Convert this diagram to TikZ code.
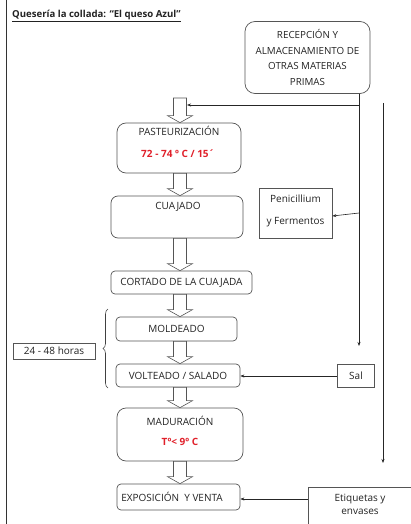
\documentclass[tikz,border=0pt]{standalone}
\usepackage{fontspec}
\setmainfont{Open Sans}
\usetikzlibrary{arrows.meta,decorations.pathreplacing,calc}
\definecolor{txt}{HTML}{222222}
\definecolor{ln}{HTML}{555555}
\definecolor{redt}{HTML}{E0202A}
\tikzset{
  box/.style={draw=ln,line width=0.7pt,rounded corners=#1,inner sep=0pt,text=txt,font=\fontsize{10}{12}\selectfont},
  box/.default=5pt,
  sqbox/.style={draw=ln,line width=0.7pt,inner sep=0pt,text=txt,align=center,font=\fontsize{10}{12}\selectfont},
  lbl/.style={text=txt,inner sep=0pt,font=\fontsize{10}{12}\selectfont},
  redlbl/.style={text=redt,inner sep=0pt,font=\bfseries\fontsize{10}{12}\selectfont},
  conn/.style={draw=black!85,line width=0.6pt,-{Stealth[length=4pt,width=3pt]}},
  barr/.style={draw=ln,fill=white,line width=0.6pt,line join=miter}
}
\newcommand\blockarr[2]{%
  \draw[barr] let \p1=(#1), \p2=(#2) in
    (173.5pt,\y1) -- (173.5pt,\y2+7pt) -- (167.5pt,\y2+7pt) -- (180pt,\y2) --
    (192.5pt,\y2+7pt) -- (186.5pt,\y2+7pt) -- (186.5pt,\y1) -- cycle;}
\begin{document}
\begin{tikzpicture}[x=1pt,y=-1pt]
\useasboundingbox (0,0) rectangle (411,524);
\draw[line width=0.8pt,black!80] (6,0) -- (6,524);

\node[anchor=west,text=txt,inner sep=0pt,font=\bfseries\fontsize{9.6}{11}\selectfont] (title) at (12,16)
  {\underline{Quesería la collada: “El queso Azul”}};

% boxes
\node[box=10pt,minimum width=125pt,minimum height=72pt,align=center,font=\fontsize{9.8}{15.5}\selectfont] (rec) at (307.5,57.5)
  {RECEPCIÓN Y\\ALMACENAMIENTO DE\\OTRAS MATERIAS\\PRIMAS};
\node[box=9pt,minimum width=124pt,minimum height=50pt] (past) at (179,148) {};
\node[lbl] (pastA) at (179,131) {PASTEURIZACIÓN};
\node[redlbl] (pastB) at (178,154) {72 - 74 º C / 15´};

\node[box=7pt,minimum width=132pt,minimum height=42pt] (cuaj) at (177,217) {};
\node[lbl] (cuajA) at (178,207) {CUAJADO};

\node[sqbox,minimum width=73pt,minimum height=50pt] (peni) at (295.5,213) {};
\node[lbl] (peniA) at (295.5,199) {Penicillium};
\node[lbl] (peniB) at (295.5,222) {y Fermentos};

\node[box=4pt,minimum width=141pt,minimum height=23pt] (cort) at (181.5,282.5) {CORTADO DE LA CUAJADA};
\node[box=4pt,minimum width=121pt,minimum height=24pt] (mold) at (176.5,329) {MOLDEADO};
\node[box=4pt,minimum width=124pt,minimum height=23pt] (volt) at (178,375.5) {VOLTEADO / SALADO};
\node[sqbox,minimum width=37pt,minimum height=23pt] (sal) at (356,376) {Sal};
\node[sqbox,minimum width=82pt,minimum height=16pt] (horas) at (54,351) {24 - 48 horas};

\node[box=9pt,minimum width=126pt,minimum height=53pt] (madu) at (180,434.5) {};
\node[lbl] (maduA) at (180,421) {MADURACIÓN};
\node[redlbl] (maduB) at (180,442) {Tº< 9º C};

\node[box=4pt,minimum width=123pt,minimum height=26pt] (expo) at (178.5,497) {};
\node[lbl] (expoA) at (172,497) {EXPOSICIÓN\ \ Y VENTA};

\node[sqbox,minimum width=104pt,minimum height=44pt] (etiq) at (360,509) {};
\node[lbl] (etiqA) at (360,499) {Etiquetas y};
\node[lbl] (etiqB) at (360,512) {envases};

% brace
\coordinate (brb) at (108,388);
\coordinate (brt) at (108,309);
\draw[line width=0.6pt,black!75,decorate,decoration={brace,amplitude=5pt}] (brb) -- (brt);

% block arrows
\coordinate (ba0) at (180,98);
\blockarr{ba0}{past.north}
\blockarr{past.south}{cuaj.north}
\blockarr{cuaj.south}{cort.north}
\blockarr{cort.south}{mold.north}
\blockarr{mold.south}{volt.north}
\blockarr{volt.south}{madu.north}
\blockarr{madu.south}{expo.north}

% connectors
\coordinate (v1a) at (359,94);
\coordinate (v1b) at (359,346);
\coordinate (j1) at (359,105);
\coordinate (in1) at (187,105);
\coordinate (j2) at (359,213);
\draw[conn] (v1a) -- (v1b);
\draw[conn] (j1) -- (in1);
\draw[conn] (j2) -- (peni.east |- 0,216);
\draw[conn] (sal.west) -- (volt.east |- sal.west);
\coordinate (v2a) at (383,103);
\coordinate (v2b) at (383,463);
\draw[conn] (v2a) -- (v2b);
\draw[conn] (etiq.west |- 0,499) -- (expo.east |- 0,499);
\end{tikzpicture}
\end{document}
